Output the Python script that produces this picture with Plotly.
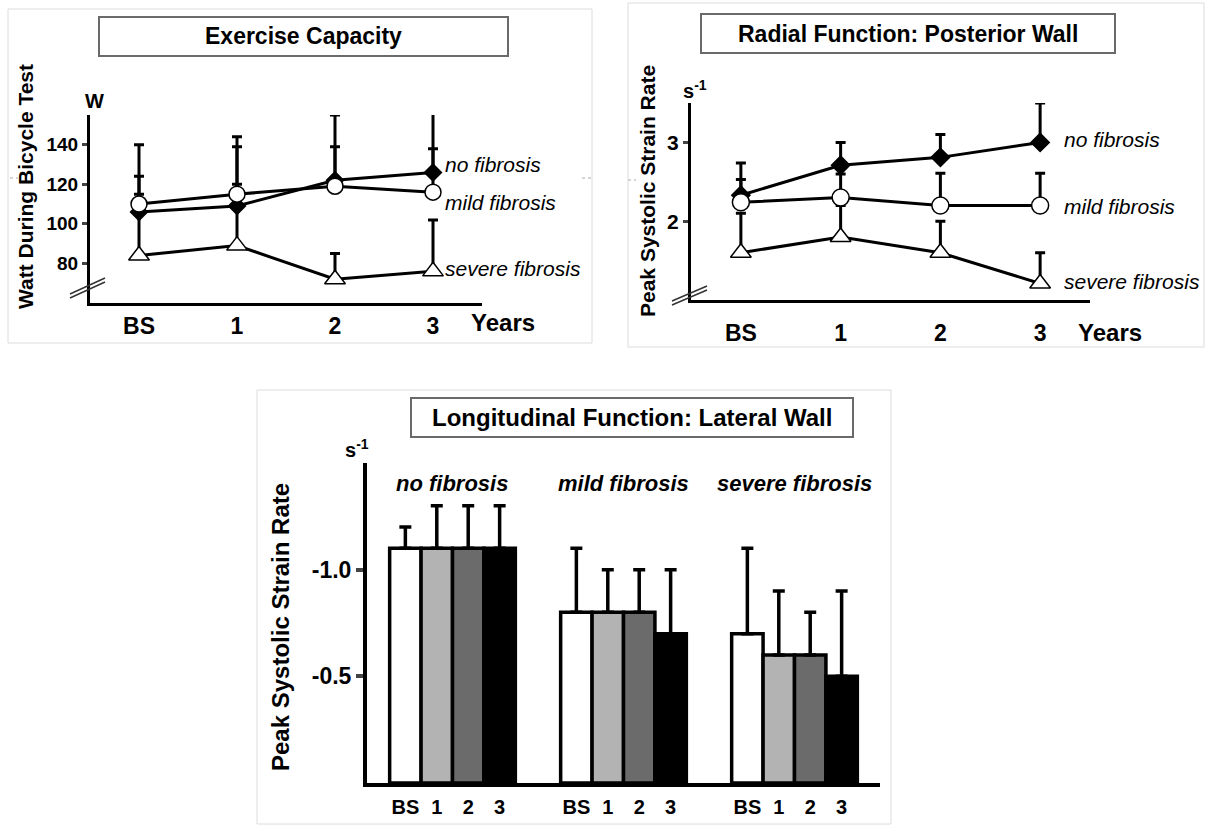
import plotly.graph_objects as go

W, H = 1205, 825
FONT = "Liberation Sans, Arial, sans-serif"

# ---------------- data ----------------
years = ['BS', '1', '2', '3']
groups = ['no fibrosis', 'mild fibrosis', 'severe fibrosis']

# Exercise capacity (W) : means and upper SD
ex_no = [106, 109, 122, 126]
ex_no_err = [34, 30, 33, 30]
ex_mild = [110, 115, 119, 116]
ex_mild_err = [14, 29, 20, 22]
ex_sev = [84, 89, 72, 76]
ex_sev_err = [31, 31, 13, 26]

# Radial function, posterior wall (s-1)
rad_no = [2.33, 2.71, 2.81, 3.0]
rad_no_err = [0.41, 0.29, 0.29, 0.5]
rad_mild = [2.24, 2.30, 2.20, 2.20]
rad_mild_err = [0.29, 0.30, 0.41, 0.41]
rad_sev = [1.60, 1.80, 1.60, 1.21]
rad_sev_err = [0.50, 0.40, 0.40, 0.39]

# Longitudinal function, lateral wall (s-1), per group, per year
long_bs = [-1.1, -0.8, -0.7]
long_bs_err = [0.1, 0.3, 0.4]
long_y1 = [-1.1, -0.8, -0.6]
long_y1_err = [0.2, 0.2, 0.3]
long_y2 = [-1.1, -0.8, -0.6]
long_y2_err = [0.2, 0.2, 0.2]
long_y3 = [-1.1, -0.7, -0.5]
long_y3_err = [0.2, 0.3, 0.4]
bar_colors = ['#ffffff', '#b3b3b3', '#6b6b6b', '#000000']

BARGAP = 0.265


def px(x):
    return x / W


def py(y):
    return 1 - y / H


fig = go.Figure()


def line_trace(y, err, symbol, fill, size, xa, ya):
    return go.Scatter(
        x=years, y=y, mode='lines+markers', xaxis=xa, yaxis=ya,
        line=dict(color='black', width=3),
        marker=dict(symbol=symbol, size=size, color=fill,
                    line=dict(color='black', width=1.5)),
        error_y=dict(type='data', symmetric=False, array=err,
                     arrayminus=[0] * len(err), color='black',
                     thickness=3, width=5),
        showlegend=False, cliponaxis=False, hoverinfo='skip')


# panel 1
fig.add_trace(line_trace(ex_sev, ex_sev_err, 'triangle-up', 'white', 18, 'x', 'y'))
fig.add_trace(line_trace(ex_no, ex_no_err, 'diamond', 'black', 13, 'x', 'y'))
fig.add_trace(line_trace(ex_mild, ex_mild_err, 'circle', 'white', 16, 'x', 'y'))
# panel 2
fig.add_trace(line_trace(rad_sev, rad_sev_err, 'triangle-up', 'white', 18, 'x2', 'y2'))
fig.add_trace(line_trace(rad_no, rad_no_err, 'diamond', 'black', 14, 'x2', 'y2'))
fig.add_trace(line_trace(rad_mild, rad_mild_err, 'circle', 'white', 17, 'x2', 'y2'))

# panel 3 bars
long_vals = [long_bs, long_y1, long_y2, long_y3]
long_errs = [long_bs_err, long_y1_err, long_y2_err, long_y3_err]
for k, (vals, errs) in enumerate(zip(long_vals, long_errs)):
    fig.add_trace(go.Bar(
        x=list(range(len(groups))), y=vals, name=years[k],
        xaxis='x3', yaxis='y3',
        marker=dict(color=bar_colors[k], line=dict(color='black', width=3.5)),
        error_y=dict(type='data', symmetric=False, array=[0] * len(errs),
                     arrayminus=errs, color='black', thickness=3.5, width=6),
        showlegend=False, hoverinfo='skip'))

bw = (1 - BARGAP) / len(years)
bar_tickvals = [g + (k - (len(years) - 1) / 2) * bw
                for g in range(len(groups)) for k in range(len(years))]
bar_ticktext = [years[k] for g in range(len(groups)) for k in range(len(years))]

axcommon = dict(showline=True, linecolor='black', showgrid=False,
                zeroline=False, fixedrange=True)

fig.update_layout(
    width=W, height=H, margin=dict(l=0, r=0, t=0, b=0),
    paper_bgcolor='white', plot_bgcolor='rgba(0,0,0,0)',
    font=dict(family=FONT, color='black'),
    barmode='group', bargap=BARGAP, bargroupgap=0,
    xaxis=dict(domain=[px(90), px(482)], anchor='y', type='category',
               range=[-0.5, 3.5], ticks='', linewidth=3,
               tickfont=dict(size=23, weight='bold'), ticklabelstandoff=0,
               **axcommon),
    yaxis=dict(domain=[py(303), py(115)], anchor='x', range=[60, 155],
               tickvals=[80, 100, 120, 140], ticks='outside', ticklen=5,
               tickwidth=3, linewidth=3,
               tickfont=dict(size=19, weight='bold'), **axcommon),
    xaxis2=dict(domain=[px(691), px(1090)], anchor='y2', type='category',
                range=[-0.5, 3.5], ticks='', linewidth=3,
                tickfont=dict(size=23, weight='bold'), ticklabelstandoff=10,
                **axcommon),
    yaxis2=dict(domain=[py(300), py(103)], anchor='x2', range=[1, 3.5],
                tickvals=[2, 3], ticks='outside', ticklen=5, tickwidth=3,
                linewidth=3, tickfont=dict(size=21, weight='bold'),
                **axcommon),
    xaxis3=dict(domain=[px(367), px(880)], anchor='y3', range=[-0.5, 2.5],
                tickvals=bar_tickvals, ticktext=bar_ticktext, ticks='',
                linewidth=4, tickfont=dict(size=20, weight='bold'),
                ticklabelstandoff=3, **axcommon),
    yaxis3=dict(domain=[py(783), py(463)], anchor='x3', range=[0, -1.5],
                tickvals=[-1.0, -0.5], ticktext=['-1.0', '-0.5'],
                ticks='outside', ticklen=7, tickwidth=3.5, linewidth=4,
                tickfont=dict(size=23, weight='bold'), **axcommon),
)

shapes = []
annotations = []

# panel frames
for (x0, y0, x1, y1) in [(8, 9, 592, 343), (628, 3, 1204, 347), (257, 390, 891, 824)]:
    shapes.append(dict(type='rect', xref='paper', yref='paper',
                       x0=px(x0), x1=px(x1), y0=py(y1), y1=py(y0),
                       line=dict(color='#dcdcdc', width=1), layer='below'))

# small dotted scan marks
for (xa, xb, yy) in [(10, 18, 178), (582, 592, 178), (628, 636, 180)]:
    shapes.append(dict(type='line', xref='paper', yref='paper',
                       x0=px(xa), x1=px(xb), y0=py(yy), y1=py(yy),
                       line=dict(color='#aaaaaa', width=1, dash='dot')))

# title boxes
titles = [('Exercise Capacity', 99, 17, 508, 56, 23),
          ('Radial Function: Posterior Wall', 701, 14, 1115, 53, 23),
          ('Longitudinal Function: Lateral Wall', 411, 398, 853, 437, 24)]
for text, x0, y0, x1, y1, fs in titles:
    shapes.append(dict(type='rect', xref='paper', yref='paper',
                       x0=px(x0), x1=px(x1), y0=py(y1), y1=py(y0),
                       line=dict(color='#6a6a6a', width=2), fillcolor='white'))
    annotations.append(dict(text='<b>%s</b>' % text, xref='paper', yref='paper',
                            x=px((x0 + x1) / 2), y=py((y0 + y1) / 2),
                            showarrow=False, font=dict(size=fs),
                            xanchor='center', yanchor='middle'))

# axis break marks
for (xa, ya, xb, yb) in [(70, 298, 105, 282), (70, 294, 105, 278),
                         (672, 305, 707, 290), (672, 301, 707, 286)]:
    shapes.append(dict(type='line', xref='paper', yref='paper',
                       x0=px(xa), y0=py(ya), x1=px(xb), y1=py(yb),
                       line=dict(color='#333333', width=1.5)))

# axis titles
for text, x, y, fs in [('Watt During Bicycle Test', 25, 187, 21),
                       ('Peak Systolic Strain Rate', 648, 191, 21),
                       ('Peak Systolic Strain Rate', 280, 627, 24)]:
    annotations.append(dict(text='<b>%s</b>' % text, xref='paper', yref='paper',
                            x=px(x), y=py(y), textangle=-90, showarrow=False,
                            font=dict(size=fs), xanchor='center', yanchor='middle'))

# units / Years labels
for text, x, y, fs in [('W', 94, 101, 20), ('s<sup>-1</sup>', 695, 89, 20),
                       ('s<sup>-1</sup>', 357, 449, 20),
                       ('Years', 503, 322, 24), ('Years', 1110, 333, 24)]:
    annotations.append(dict(text='<b>%s</b>' % text, xref='paper', yref='paper',
                            x=px(x), y=py(y), showarrow=False, font=dict(size=fs),
                            xanchor='center', yanchor='middle'))

# series labels (top panels)
for text, x, y in [('no fibrosis', 443, 165), ('mild fibrosis', 443, 202),
                   ('severe fibrosis', 443, 268),
                   ('no fibrosis', 1062, 140), ('mild fibrosis', 1062, 206),
                   ('severe fibrosis', 1062, 281)]:
    annotations.append(dict(text='<i>%s</i>' % text, xref='paper', yref='paper',
                            x=px(x), y=py(y), showarrow=False,
                            font=dict(size=21), xanchor='left', yanchor='middle'))

# group labels (bottom panel)
for g, name in enumerate(groups):
    annotations.append(dict(text='<b><i>%s</i></b>' % name, xref='x3', yref='paper',
                            x=g, y=py(483), showarrow=False, font=dict(size=22),
                            xanchor='center', yanchor='middle'))

fig.update_layout(shapes=shapes, annotations=annotations)
fig.write_html('out.html')
